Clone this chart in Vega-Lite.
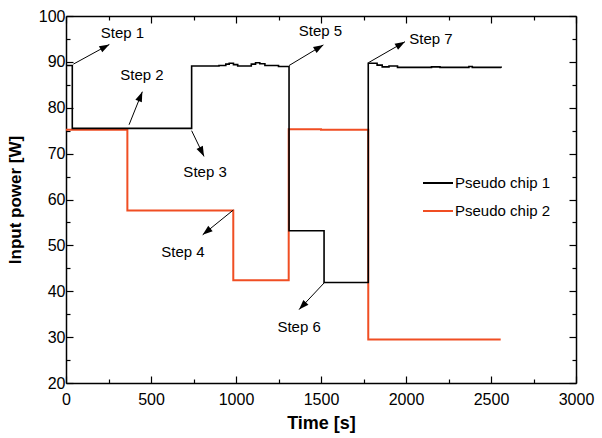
{
  "$schema": "https://vega.github.io/schema/vega-lite/v6.json",
  "width": 510,
  "height": 367,
  "autosize": {"type": "none"},
  "padding": {"left": 66, "top": 16, "right": 26, "bottom": 55},
  "config": {
    "view": {"stroke": null},
    "font": "Liberation Sans",
    "axis": {"grid": false, "domainColor": "black", "domainWidth": 1.5, "tickColor": "black", "tickWidth": 1.2, "labelColor": "black", "titleColor": "black", "labelFont": "Liberation Sans", "titleFont": "Liberation Sans"}
  },
  "datasets": {
    "lines": [
      {"series": "Pseudo chip 2", "t": 0, "v": 75.2},
      {"series": "Pseudo chip 2", "t": 361, "v": 57.6},
      {"series": "Pseudo chip 2", "t": 984, "v": 42.4},
      {"series": "Pseudo chip 2", "t": 1310, "v": 75.3},
      {"series": "Pseudo chip 2", "t": 1500, "v": 75.2},
      {"series": "Pseudo chip 2", "t": 1778, "v": 29.5},
      {"series": "Pseudo chip 2", "t": 2557, "v": 29.5},
      {"series": "Pseudo chip 1", "t": 0, "v": 89.2},
      {"series": "Pseudo chip 1", "t": 37, "v": 75.5},
      {"series": "Pseudo chip 1", "t": 739, "v": 89.1},
      {"series": "Pseudo chip 1", "t": 900, "v": 89.2},
      {"series": "Pseudo chip 1", "t": 940, "v": 89.5},
      {"series": "Pseudo chip 1", "t": 960, "v": 89.7},
      {"series": "Pseudo chip 1", "t": 985, "v": 89.4},
      {"series": "Pseudo chip 1", "t": 1010, "v": 89.1},
      {"series": "Pseudo chip 1", "t": 1090, "v": 89.5},
      {"series": "Pseudo chip 1", "t": 1115, "v": 89.8},
      {"series": "Pseudo chip 1", "t": 1140, "v": 89.6},
      {"series": "Pseudo chip 1", "t": 1170, "v": 89.2},
      {"series": "Pseudo chip 1", "t": 1250, "v": 89.0},
      {"series": "Pseudo chip 1", "t": 1312, "v": 53.2},
      {"series": "Pseudo chip 1", "t": 1518, "v": 41.9},
      {"series": "Pseudo chip 1", "t": 1778, "v": 89.7},
      {"series": "Pseudo chip 1", "t": 1830, "v": 89.3},
      {"series": "Pseudo chip 1", "t": 1860, "v": 88.9},
      {"series": "Pseudo chip 1", "t": 1900, "v": 89.1},
      {"series": "Pseudo chip 1", "t": 1950, "v": 88.8},
      {"series": "Pseudo chip 1", "t": 2150, "v": 88.9},
      {"series": "Pseudo chip 1", "t": 2200, "v": 88.8},
      {"series": "Pseudo chip 1", "t": 2370, "v": 89.0},
      {"series": "Pseudo chip 1", "t": 2390, "v": 88.8},
      {"series": "Pseudo chip 1", "t": 2560, "v": 88.7}
    ],
    "steps": [
      {"label": "Step 1", "sx": 43, "sy": 89.5, "ex": 255, "ey": 93.8, "tx": 332, "ty": 96.2},
      {"label": "Step 2", "sx": 371, "sy": 76.3, "ex": 449, "ey": 83.5, "tx": 447, "ty": 87.1},
      {"label": "Step 3", "sx": 739, "sy": 75.0, "ex": 812, "ey": 69.4, "tx": 818, "ty": 66.1},
      {"label": "Step 4", "sx": 984, "sy": 57.7, "ex": 804, "ey": 52.3, "tx": 688, "ty": 48.5},
      {"label": "Step 5", "sx": 1312, "sy": 89.2, "ex": 1514, "ey": 93.7, "tx": 1497, "ty": 96.7},
      {"label": "Step 6", "sx": 1518, "sy": 41.8, "ex": 1371, "ey": 36.0, "tx": 1371, "ty": 32.3},
      {"label": "Step 7", "sx": 1778, "sy": 89.8, "ex": 1994, "ey": 94.4, "tx": 2147, "ty": 95.0}
    ]
  },
  "resolve": {"axis": {"x": "independent", "y": "independent"}},
  "layer": [
    {
      "data": {"name": "lines"},
      "transform": [{"filter": "datum.series === 'Pseudo chip 2'"}],
      "mark": {"type": "line", "interpolate": "step-after", "strokeWidth": 2},
      "encoding": {
        "x": {"field": "t", "type": "quantitative", "scale": {"domain": [0, 3000], "nice": false},
          "axis": {"orient": "bottom", "title": "Time [s]", "titleFontSize": 18, "titleFontWeight": "bold", "titlePadding": 4,
            "values": [0, 250, 500, 750, 1000, 1250, 1500, 1750, 2000, 2250, 2500, 2750, 3000],
            "labelExpr": "datum.value % 500 === 0 ? datum.label : ''", "format": "d",
            "tickSize": {"condition": {"test": "datum.value % 500 === 0", "value": -7}, "value": -4},
            "labelFontSize": 16, "labelPadding": 15, "labelFlush": false, "labelOverlap": false, "labelBound": false}},
        "y": {"field": "v", "type": "quantitative", "scale": {"domain": [20, 100], "nice": false},
          "axis": {"orient": "left", "title": "Input power [W]", "titleFontSize": 17, "titleFontWeight": "bold", "titlePadding": 14,
            "values": [20, 25, 30, 35, 40, 45, 50, 55, 60, 65, 70, 75, 80, 85, 90, 95, 100],
            "labelExpr": "datum.value % 10 === 0 ? datum.label : ''",
            "tickSize": {"condition": {"test": "datum.value % 10 === 0", "value": -7}, "value": -4},
            "labelFontSize": 16, "labelPadding": 8, "labelFlush": false, "labelOverlap": false, "labelBound": false}},
        "color": {"field": "series", "type": "nominal",
          "scale": {"domain": ["Pseudo chip 1", "Pseudo chip 2"], "range": ["black", "#f04e23"]},
          "legend": {"orient": "none", "legendX": 356, "legendY": 151, "title": null, "symbolType": "stroke", "symbolSize": 900, "symbolStrokeWidth": 2, "labelFontSize": 15, "labelColor": "black", "labelOffset": 1, "rowPadding": 4, "padding": 0}}
      }
    },
    {
      "data": {"name": "lines"},
      "transform": [{"filter": "datum.series === 'Pseudo chip 1'"}],
      "mark": {"type": "line", "interpolate": "step-after", "strokeWidth": 1.6},
      "encoding": {
        "x": {"field": "t", "type": "quantitative",
          "axis": {"orient": "top", "title": null, "labels": false,
            "values": [0, 250, 500, 750, 1000, 1250, 1500, 1750, 2000, 2250, 2500, 2750, 3000],
            "tickSize": {"condition": {"test": "datum.value % 500 === 0", "value": -7}, "value": -4}}},
        "y": {"field": "v", "type": "quantitative",
          "axis": {"orient": "right", "title": null, "labels": false,
            "values": [20, 25, 30, 35, 40, 45, 50, 55, 60, 65, 70, 75, 80, 85, 90, 95, 100],
            "tickSize": {"condition": {"test": "datum.value % 10 === 0", "value": -7}, "value": -4}}},
        "color": {"field": "series", "type": "nominal",
          "legend": {"orient": "none", "legendX": 356, "legendY": 151, "title": null, "symbolType": "stroke", "symbolSize": 900, "symbolStrokeWidth": 2, "labelFontSize": 15, "labelColor": "black", "labelOffset": 1, "rowPadding": 4, "padding": 0}}
      }
    },
    {
      "data": {"name": "steps"},
      "mark": {"type": "rule", "color": "black", "strokeWidth": 1},
      "encoding": {
        "x": {"field": "sx", "type": "quantitative", "axis": null},
        "y": {"field": "sy", "type": "quantitative", "axis": null},
        "x2": {"field": "ex"},
        "y2": {"field": "ey"}
      }
    },
    {
      "data": {"name": "steps"},
      "transform": [{"calculate": "atan2((datum.ex - datum.sx) * 0.17, (datum.ey - datum.sy) * 4.5875) * 180 / PI", "as": "ang"}],
      "mark": {"type": "point", "shape": "M0,0L0.7,2L-0.7,2Z", "filled": true, "color": "black", "opacity": 1, "size": 100},
      "encoding": {
        "x": {"field": "ex", "type": "quantitative", "axis": null},
        "y": {"field": "ey", "type": "quantitative", "axis": null},
        "angle": {"field": "ang", "type": "quantitative", "scale": null}
      }
    },
    {
      "data": {"name": "steps"},
      "mark": {"type": "text", "fontSize": 15, "color": "black", "align": "center", "baseline": "middle"},
      "encoding": {
        "x": {"field": "tx", "type": "quantitative", "axis": null},
        "y": {"field": "ty", "type": "quantitative", "axis": null},
        "text": {"field": "label"}
      }
    }
  ]
}
